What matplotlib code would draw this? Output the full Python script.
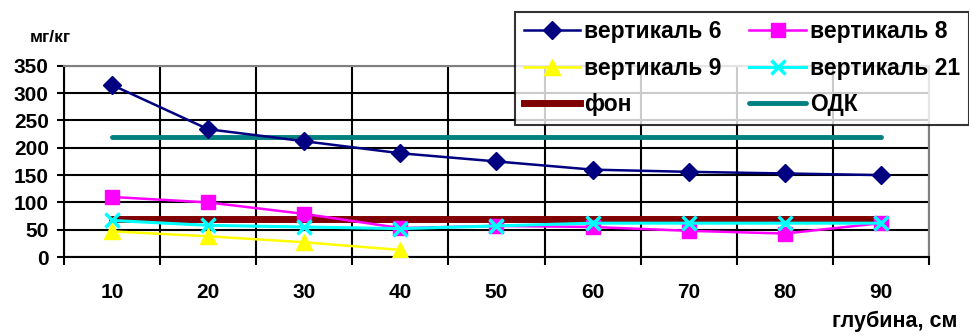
import numpy as np
import matplotlib
matplotlib.use("Agg")
import matplotlib.pyplot as plt

plt.rcParams['font.family'] = ['Liberation Sans', 'DejaVu Sans']
plt.rcParams['font.weight'] = 'bold'

depths = ['10', '20', '30', '40', '50', '60', '70', '80', '90']
vert6 = [315, 234, 212, 190, 175, 160, 156, 153, 150]
vert8 = [110, 100, 79, 53, 57, 55, 48, 43, 62]
vert9 = [47, 38, 27, 13]
vert21 = [67, 58, 55, 52, 57, 62, 62, 62, 62]
fon = [70] * 9
odk = [220] * 9

x = np.arange(len(depths))

fig = plt.figure(figsize=(9.69, 3.36), dpi=100)
ax = fig.add_axes([0.066, 0.235, 0.8927, 0.569])

ax.plot(x, odk, color='#008080', lw=3.5, solid_capstyle='round', label='ОДК', zorder=3)
ax.plot(x, fon, color='#800000', lw=5, label='фон', zorder=3)
ax.plot(x, vert8, color='#FF00FF', lw=1.8, marker='s', ms=10.5, label='вертикаль 8', zorder=4)
ax.plot(x, vert21, color='#00FFFF', lw=2.2, marker='x', ms=10.5, mew=2.5, label='вертикаль 21', zorder=5)
ax.plot(x[:len(vert9)], vert9, color='#FFFF00', lw=1.8, marker='^', ms=12, label='вертикаль 9', zorder=4)
ax.plot(x, vert6, color='#000080', lw=1.8, marker='D', ms=9.5, label='вертикаль 6', zorder=6)

ax.set_xlim(-0.5, len(depths) - 0.5)
ax.set_ylim(0, 350)
ax.set_yticks(range(0, 351, 50))
ax.set_xticks(x)
ax.set_xticklabels(depths)
ax.set_xticks(np.arange(-0.5, len(depths), 1), minor=True)
ax.tick_params(axis='x', which='major', length=0, pad=19, labelsize=15)
ax.tick_params(axis='x', which='minor', length=6, width=1.5, color='black')
ax.tick_params(axis='y', length=5, width=1.5, labelsize=15, pad=6)

ax.grid(True, axis='y', color='black', lw=1.5)
ax.grid(True, axis='x', which='minor', color='black', lw=1.5)
ax.set_axisbelow(True)

for s in ['left', 'bottom']:
    ax.spines[s].set_color('black')
    ax.spines[s].set_linewidth(1.5)
for s in ['top', 'right']:
    ax.spines[s].set_color('#808080')
    ax.spines[s].set_linewidth(1.5)

fig.text(0.031, 0.887, 'мг/кг', fontsize=12.5, fontweight='bold', va='center')
fig.text(0.988, 0.045, 'глубина, см', fontsize=15.5, fontweight='bold', ha='right', va='center')

handles, labels = ax.get_legend_handles_labels()
order = ['вертикаль 6', 'вертикаль 9', 'фон', 'вертикаль 8', 'вертикаль 21', 'ОДК']
hmap = dict(zip(labels, handles))
leg = fig.legend([hmap[k] for k in order], order, ncol=2, loc='upper right',
                 bbox_to_anchor=(1.0, 0.965), fontsize=16.5, frameon=True, fancybox=False,
                 handlelength=2.45, columnspacing=1.2, handletextpad=0.2, labelspacing=0.58,
                 borderpad=0.38, borderaxespad=0)
leg.get_frame().set_edgecolor('black')
leg.get_frame().set_linewidth(1.5)
leg.set_zorder(10)

fig.savefig('out.png', dpi=100)
